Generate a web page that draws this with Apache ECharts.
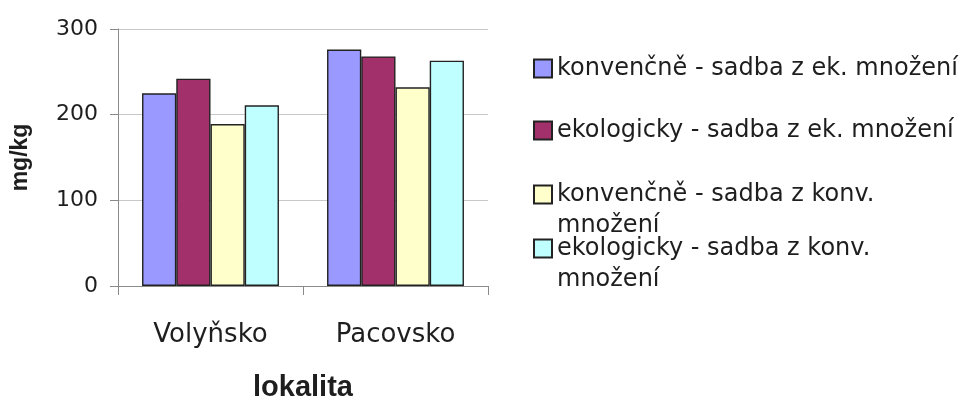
<!DOCTYPE html>
<html>
<head>
<meta charset="utf-8">
<script src="https://cdn.jsdelivr.net/npm/echarts@6/dist/echarts.min.js"></script>
<style>
  html, body { margin: 0; padding: 0; background: #fff; }
  #chart { width: 961px; height: 398px; }
</style>
</head>
<body>
<div id="chart"></div>
<script>
// Localities on the category axis
const categories = ['Volyňsko', 'Pacovsko'];

// Series names (legend) and their values in mg/kg
const seriesNames = [
  'konvenčně - sadba z ek. množení',
  'ekologicky - sadba z ek. množení',
  'konvenčně - sadba z konv. množení',
  'ekologicky - sadba z konv. množení'
];
const konvEk = [225, 276];
const ekoEk = [242, 268];
const konvKonv = [189, 232];
const ekoKonv = [211, 263];

// Y axis range
const yMin = 0;
const yMax = 300;
const yStep = 100;

const colors = ['#9999FF', '#A2306A', '#FFFFCC', '#BFFFFF'];
const values = [konvEk, ekoEk, konvKonv, ekoKonv];

const FONT = '"DejaVu Sans", "Liberation Sans", Arial, sans-serif';
const FONT_BOLD = '"Liberation Sans", Arial, sans-serif';
const TEXT = '#1e1e1e';

const series = seriesNames.map((name, i) => ({
  name: name,
  type: 'bar',
  data: values[i],
  barGap: '0%',
  barCategoryGap: '26%',
  itemStyle: { color: colors[i], borderColor: '#222', borderWidth: 1.4 },
  emphasis: { disabled: true }
}));

// One legend block per entry; long entries wrap onto a second line,
// with a leading blank line so the icon lines up with the first line.
const legendTops = [53, 115, 148, 202];
const wrapped = {
  'konvenčně - sadba z konv. množení': ' \nkonvenčně - sadba z konv.\nmnožení',
  'ekologicky - sadba z konv. množení': ' \nekologicky - sadba z konv.\nmnožení'
};
const legends = seriesNames.map((name, i) => ({
  data: [name],
  left: 533,
  top: legendTops[i],
  orient: 'vertical',
  padding: 0,
  icon: 'rect',
  itemWidth: 18,
  itemHeight: 18,
  selectedMode: false,
  formatter: n => wrapped[n] || n,
  textStyle: { fontFamily: FONT, fontSize: 24, color: TEXT, lineHeight: 31 }
}));

const chart = echarts.init(document.getElementById('chart'), null, { renderer: 'canvas' });
chart.setOption({
  animation: false,
  backgroundColor: '#ffffff',
  grid: { left: 118, right: 473, top: 29, bottom: 112, outerBoundsMode: 'none', containLabel: false },
  legend: legends,
  xAxis: {
    type: 'category',
    data: categories,
    name: 'lokalita',
    nameLocation: 'middle',
    nameGap: 87,
    nameTextStyle: { fontFamily: FONT_BOLD, fontSize: 29, fontWeight: 'bold', color: TEXT },
    axisLine: { lineStyle: { color: '#8a8a8a', width: 1 } },
    axisTick: { show: true, length: 9, lineStyle: { color: '#8a8a8a' } },
    axisLabel: { fontFamily: FONT, fontSize: 26, color: TEXT, margin: 36 }
  },
  yAxis: {
    type: 'value',
    min: yMin,
    max: yMax,
    interval: yStep,
    name: 'mg/kg',
    nameLocation: 'middle',
    nameGap: 86,
    nameRotate: 90,
    nameTextStyle: { fontFamily: FONT_BOLD, fontSize: 23, fontWeight: 'bold', color: TEXT },
    axisLine: { show: true, lineStyle: { color: '#8a8a8a', width: 1 } },
    axisTick: { show: true, length: 8, lineStyle: { color: '#8a8a8a' } },
    axisLabel: { fontFamily: FONT, fontSize: 22, color: TEXT, margin: 20 },
    splitLine: { lineStyle: { color: '#c8c8c8', width: 1 } }
  },
  series: series
});
</script>
</body>
</html>
